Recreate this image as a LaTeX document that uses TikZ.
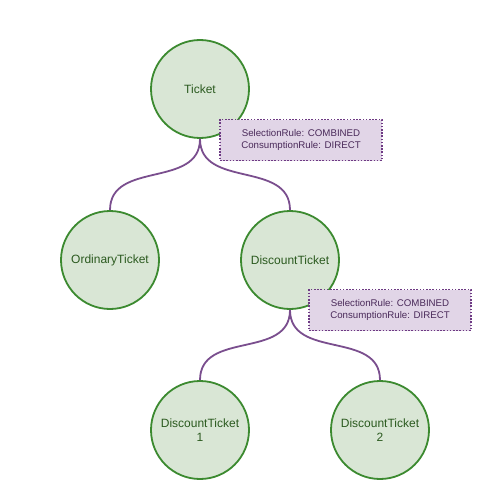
\documentclass[tikz,border=0pt]{standalone}
\usepackage{fontspec}
\setmainfont{Liberation Sans}
\usetikzlibrary{positioning}
\definecolor{ticketfill}{HTML}{D9E6D5}
\definecolor{ticketline}{HTML}{3C8A30}
\definecolor{tickettext}{HTML}{2B5A1F}
\definecolor{notefill}{HTML}{E1D5E7}
\definecolor{noteline}{HTML}{6E3A84}
\definecolor{notetext}{HTML}{4A2A5A}
\definecolor{linkline}{HTML}{7A4E8E}

\begin{document}
\begin{tikzpicture}[x=1pt,y=-1pt,
  ticket/.style={circle,draw=ticketline,fill=ticketfill,line width=1.8pt,minimum size=98pt,inner sep=0pt,align=center,text=tickettext,font=\fontsize{12}{13.5}\selectfont},
  rulenote/.style={draw=noteline,fill=notefill,dash pattern=on 1.6pt off 1.6pt,line width=1.6pt,minimum width=162pt,minimum height=41pt,align=center,text=notetext,font=\fontsize{9.7}{12}\selectfont},
  link/.style={draw=linkline,line width=1.8pt}]
\useasboundingbox (0,0) rectangle (494,500);
% tickets
\node[ticket] (ticket) at (200,89) {Ticket};
\node[ticket] (ordinary) at (110,260) {OrdinaryTicket};
\node[ticket] (discount) at (290,260) {DiscountTicket};
\node[ticket] (discountA) at (200,430) {DiscountTicket\\1};
\node[ticket] (discountB) at (380,430) {DiscountTicket\\2};
% tree links
\draw[link] (ticket.south) .. controls +(0,50) and +(0,-50) .. (ordinary.north);
\draw[link] (ticket.south) .. controls +(0,50) and +(0,-50) .. (discount.north);
\draw[link] (discount.south) .. controls +(0,50) and +(0,-50) .. (discountA.north);
\draw[link] (discount.south) .. controls +(0,50) and +(0,-50) .. (discountB.north);
% rule notes
\node[rulenote] (ticketrule) at (301,140) {SelectionRule: COMBINED\\ConsumptionRule: DIRECT};
\node[rulenote] (discountrule) at (390,310) {SelectionRule: COMBINED\\ConsumptionRule: DIRECT};
\end{tikzpicture}
\end{document}
